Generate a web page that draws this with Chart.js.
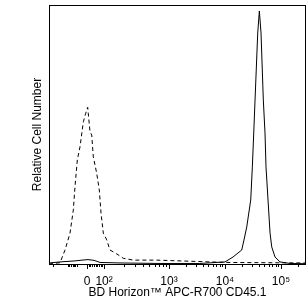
<!DOCTYPE html>
<html>
<head>
<meta charset="utf-8">
<script src="https://cdn.jsdelivr.net/npm/chart.js@4"></script>
<style>
  html, body { margin: 0; padding: 0; background: #fff; }
  #wrap { width: 308px; height: 306px; }
</style>
</head>
<body>
<div id="wrap"><canvas id="myChart" width="308" height="306"></canvas></div>
<script>
// x values are positions on the logicle display axis, in decades (10^3 -> 3, 10^4 -> 4 ...)
var controlX = [0.857, 1.054, 1.143, 1.232, 1.291, 1.321, 1.363, 1.411, 1.470, 1.513, 1.548, 1.589, 1.620, 1.648, 1.709, 1.755, 1.786, 1.827, 1.888, 1.946, 2.066, 2.184, 2.363, 2.780, 3.196, 4.018, 5.446];
var controlCounts = [0, 0.5, 5.4, 11.9, 20.8, 29.8, 40.2, 45.3, 54.9, 58.2, 60.5, 51.1, 49.8, 41.4, 35.0, 28.6, 19.6, 11.9, 9.3, 5.4, 3.9, 2.2, 1.5, 1.5, 1.2, 0.6, 0.4];

var stainedX = [0.857, 1.054, 1.321, 1.446, 1.554, 1.661, 1.768, 2.125, 2.840, 3.550, 4.000, 4.143, 4.298, 4.339, 4.388, 4.459, 4.488, 4.513, 4.536, 4.584, 4.613, 4.643, 4.684, 4.714, 4.732, 4.768, 4.804, 4.834, 4.893, 4.982, 5.161, 5.446];
var stainedCounts = [0.4, 0.8, 1.2, 1.5, 1.7, 1.4, 0.6, 0.4, 0.2, 0.2, 0.8, 2.7, 5.4, 9.3, 14.3, 24.7, 37.5, 50.6, 63.3, 89.2, 97.7, 89.2, 63.3, 50.6, 37.5, 24.7, 12.0, 6.6, 2.7, 0.8, 0.2, 0.1];

var majorTickPos = [1.536, 1.84, 3, 4, 5];
var majorTickLabels = ['0', '10\u00B2', '10\u00B3', '10\u2074', '10\u2075'];
var lowMinorTicks = [0.923, 1.196, 1.223, 1.25, 1.277, 1.304, 1.330, 1.357,
                     1.566, 1.597, 1.627, 1.658, 1.688, 1.718, 1.749, 1.779, 1.810];

var minorTicks = lowMinorTicks.slice();
for (var k = 2; k <= 9; k++) {
  minorTicks.push(1.84 + 1.16 * Math.log10(k));
  minorTicks.push(3 + Math.log10(k));
  minorTicks.push(4 + Math.log10(k));
}
minorTicks.push(5.301);

var toPoints = function (xs, ys) {
  return xs.map(function (x, i) { return { x: x, y: ys[i] }; });
};

var frameAndTicks = {
  id: 'frameAndTicks',
  afterDraw: function (chart) {
    var c = chart.ctx, a = chart.chartArea, sx = chart.scales.x;
    c.save();
    c.strokeStyle = '#000';
    c.lineWidth = 1;
    c.strokeRect(Math.round(a.left) + 0.5, Math.round(a.top) + 0.5,
                 Math.round(a.right - a.left) - 1, Math.round(a.bottom - a.top));
    c.beginPath();
    minorTicks.forEach(function (v) {
      var px = Math.round(sx.getPixelForValue(v)) + 0.5;
      c.moveTo(px, a.bottom);
      c.lineTo(px, a.bottom + 3);
    });
    c.stroke();
    c.restore();
  }
};

Chart.defaults.font.family = '"Liberation Sans", Arial, sans-serif';
Chart.defaults.font.size = 12;
Chart.defaults.color = '#000';

var ctx = document.getElementById('myChart').getContext('2d');
var myChart = new Chart(ctx, {
  type: 'line',
  data: {
    datasets: [{
      label: 'Control',
      data: toPoints(controlX, controlCounts),
      borderColor: '#000',
      borderWidth: 1,
      borderDash: [4, 3],
      pointRadius: 0,
      tension: 0,
      fill: false
    }, {
      label: 'CD45.1',
      data: toPoints(stainedX, stainedCounts),
      borderColor: '#000',
      borderWidth: 1,
      pointRadius: 0,
      tension: 0,
      fill: false
    }]
  },
  options: {
    responsive: false,
    animation: false,
    layout: { padding: { top: 5, right: 2, left: 0, bottom: 0 } },
    plugins: {
      legend: { display: false },
      tooltip: { enabled: false }
    },
    scales: {
      x: {
        type: 'linear',
        min: 0.857,
        max: 5.446,
        afterBuildTicks: function (axis) {
          axis.ticks = majorTickPos.map(function (v) { return { value: v }; });
        },
        afterFit: function (axis) { axis.height = 42; },
        ticks: {
          autoSkip: false,
          maxRotation: 0,
          padding: 5,
          callback: function (value, index) { return majorTickLabels[index]; }
        },
        grid: { drawOnChartArea: false, tickLength: 5, color: '#000' },
        border: { display: false },
        title: {
          display: true,
          text: 'BD Horizon\u2122 APC-R700 CD45.1',
          padding: { top: 0, bottom: 6 }
        }
      },
      y: {
        type: 'linear',
        min: 0,
        max: 100,
        afterFit: function (axis) { axis.width = 49; },
        ticks: { display: false },
        grid: { display: false },
        border: { display: false },
        title: {
          display: true,
          text: 'Relative Cell Number',
          padding: { top: 30, bottom: 0 }
        }
      }
    }
  },
  plugins: [frameAndTicks]
});
</script>
</body>
</html>
